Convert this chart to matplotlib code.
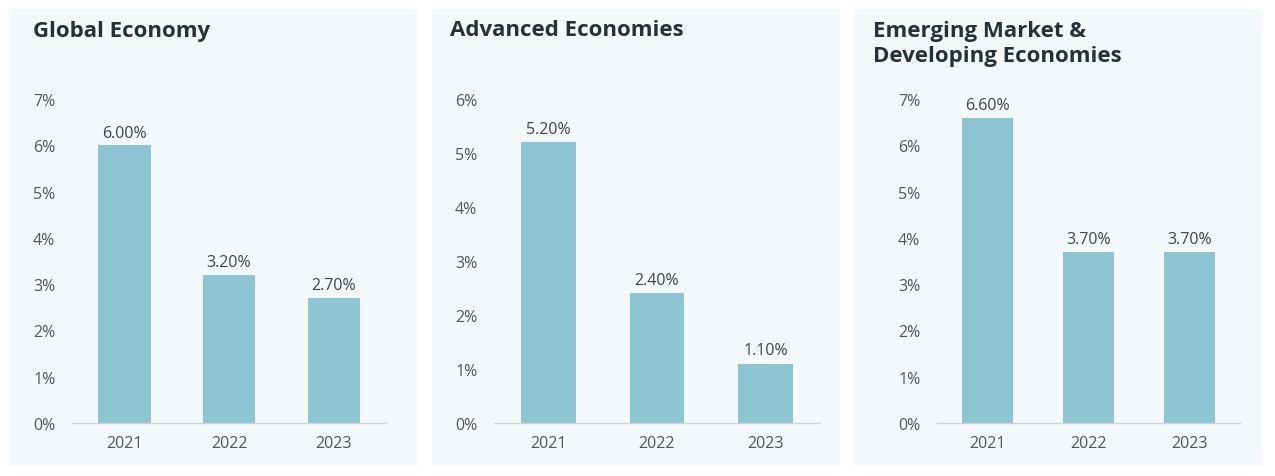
import matplotlib.pyplot as plt
from matplotlib.patches import Rectangle

# data
years = ['2021', '2022', '2023']
titles = ['Global Economy', 'Advanced Economies', 'Emerging Market &\nDeveloping Economies']
global_vals = [6.0, 3.2, 2.7]
advanced_vals = [5.2, 2.4, 1.1]
emerging_vals = [6.6, 3.7, 3.7]
ymax = [7, 6, 7]

W, H = 1275, 477
fig = plt.figure(figsize=(W / 100, H / 100), dpi=100)
fig.patch.set_facecolor('white')

bg = '#f3f8fb'
bar_color = '#8ec5d2'
title_color = '#263238'
text_color = '#555555'

# panel boxes, title positions and axes boxes in pixels
panels = [(9, 417), (432, 840), (854, 1262)]
title_pos = [(33, 31), (450, 31), (873, 44)]
axes_x = [(72, 386), (494, 820), (937, 1240)]
series = [global_vals, advanced_vals, emerging_vals]

plt.rcParams['font.family'] = ['Open Sans', 'DejaVu Sans']

for i in range(3):
    pl, pr = panels[i]
    fig.patches.append(Rectangle((pl / W, 1 - 467 / H), (pr - pl) / W, (467 - 10) / H,
                                 transform=fig.transFigure, facecolor=bg, edgecolor='none', zorder=-1))
    tx, ty = title_pos[i]
    fig.text(tx / W, 1 - ty / H, titles[i], fontsize=16, fontweight='bold',
             color=title_color, va='center', ha='left', linespacing=1.25)

    al, ar = axes_x[i]
    ax = fig.add_axes([al / W, 1 - 424 / H, (ar - al) / W, (424 - 100) / H])
    ax.set_zorder(2)
    ax.set_facecolor('none')
    vals = series[i]
    bars = ax.bar(range(3), vals, width=0.5, color=bar_color, zorder=2)
    for b, v in zip(bars, vals):
        ax.text(b.get_x() + b.get_width() / 2, v + 0.1, f'{v:.2f}%', ha='center', va='bottom',
                fontsize=11.5, color='#444444')
    ax.set_xlim(-0.5, 2.5)
    ax.set_ylim(0, ymax[i])
    ax.set_yticks(range(ymax[i] + 1))
    ax.set_yticklabels([f'{t}%' for t in range(ymax[i] + 1)])
    ax.set_xticks(range(3))
    ax.set_xticklabels(years)
    for s in ['top', 'right', 'left']:
        ax.spines[s].set_visible(False)
    ax.spines['bottom'].set_color('#d0d4d8')
    ax.spines['bottom'].set_linewidth(1)
    ax.tick_params(axis='both', length=0, labelsize=11.5, colors=text_color)
    ax.tick_params(axis='y', pad=12)
    ax.tick_params(axis='x', pad=9)

fig.savefig('out.png', dpi=100, facecolor='white')
